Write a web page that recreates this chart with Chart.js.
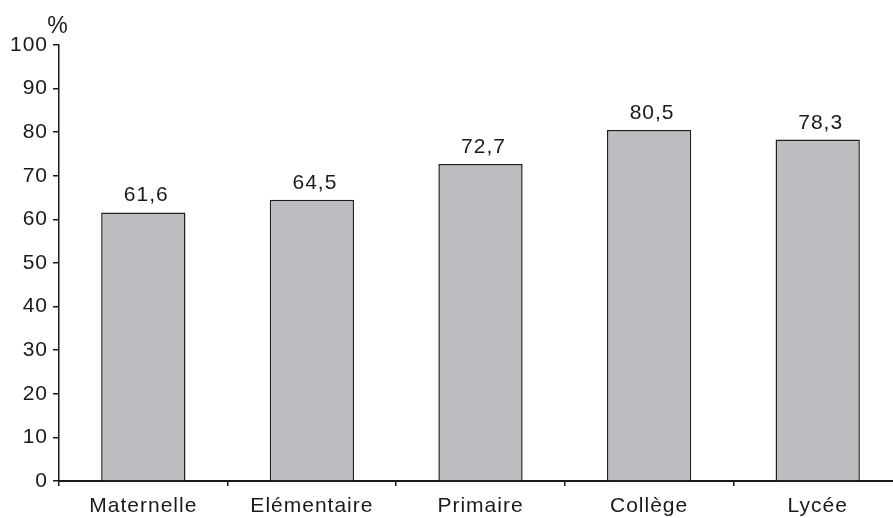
<!DOCTYPE html>
<html>
<head>
<meta charset="utf-8">
<script src="https://cdn.jsdelivr.net/npm/chart.js@4/dist/chart.umd.min.js"></script>
<style>
  html, body { margin: 0; padding: 0; background: #fff; overflow: hidden; }
  #wrap { width: 910px; height: 518px; }
</style>
</head>
<body>
<div id="wrap"><canvas id="c" width="910" height="518"></canvas></div>
<script>
// Share by school level (%)
const categories = ['Maternelle', 'Elémentaire', 'Primaire', 'Collège', 'Lycée'];
const values = [61.6, 64.5, 72.7, 80.5, 78.3];
const yTicks = [0, 10, 20, 30, 40, 50, 60, 70, 80, 90, 100];

const FONT = 'Liberation Sans, Arial, Helvetica, sans-serif';
const fmt = v => v.toFixed(1).replace('.', ',');

// Slightly wider text spacing for all canvas text
const spacing = {
  id: 'spacing',
  beforeDraw(chart) { chart.ctx.letterSpacing = '1px'; }
};

// Value above each bar and the "%" unit over the y axis
const annotations = {
  id: 'annotations',
  afterDatasetsDraw(chart) {
    const ctx = chart.ctx;
    const meta = chart.getDatasetMeta(0);
    ctx.save();
    ctx.fillStyle = '#1a1a1a';
    ctx.font = '21px ' + FONT;
    ctx.textAlign = 'center';
    ctx.textBaseline = 'alphabetic';
    meta.data.forEach((bar, i) => {
      ctx.fillText(fmt(values[i]), bar.x + 3, bar.y - 11);
    });
    ctx.font = '23px ' + FONT;
    const ys = chart.scales.y;
    ctx.fillText('%', ys.right - 1, chart.chartArea.top - 12);
    ctx.restore();
  }
};

new Chart(document.getElementById('c'), {
  type: 'bar',
  data: {
    labels: categories,
    datasets: [{
      data: values,
      backgroundColor: '#bcbdc1',
      borderColor: '#1f1f1f',
      borderWidth: 1.5,
      borderSkipped: 'bottom',
      barPercentage: 0.5,
      categoryPercentage: 1.0
    }]
  },
  options: {
    responsive: false,
    animation: false,
    layout: { padding: { top: 45, right: 8, bottom: 0, left: 0 } },
    plugins: { legend: { display: false }, tooltip: { enabled: false } },
    scales: {
      x: {
        offset: true,
        grid: { offset: true, drawOnChartArea: false, drawTicks: true, tickLength: 5, color: '#1a1a1a', lineWidth: 1.5 },
        border: { display: true, color: '#1a1a1a', width: 2 },
        ticks: { color: '#1a1a1a', font: { family: FONT, size: 21 }, padding: 8, maxRotation: 0 },
        afterFit(scale) { scale.height = 37; }
      },
      y: {
        min: 0,
        max: 100,
        afterBuildTicks(scale) { scale.ticks = yTicks.map(v => ({ value: v })); },
        grid: { drawOnChartArea: false, drawTicks: true, tickLength: 6, color: '#1a1a1a', lineWidth: 1.5 },
        border: { display: true, color: '#1a1a1a', width: 1.5 },
        ticks: { color: '#1a1a1a', font: { family: FONT, size: 21 }, padding: 5 },
        afterFit(scale) { scale.width = 59; }
      }
    }
  },
  plugins: [spacing, annotations]
});
</script>
</body>
</html>
